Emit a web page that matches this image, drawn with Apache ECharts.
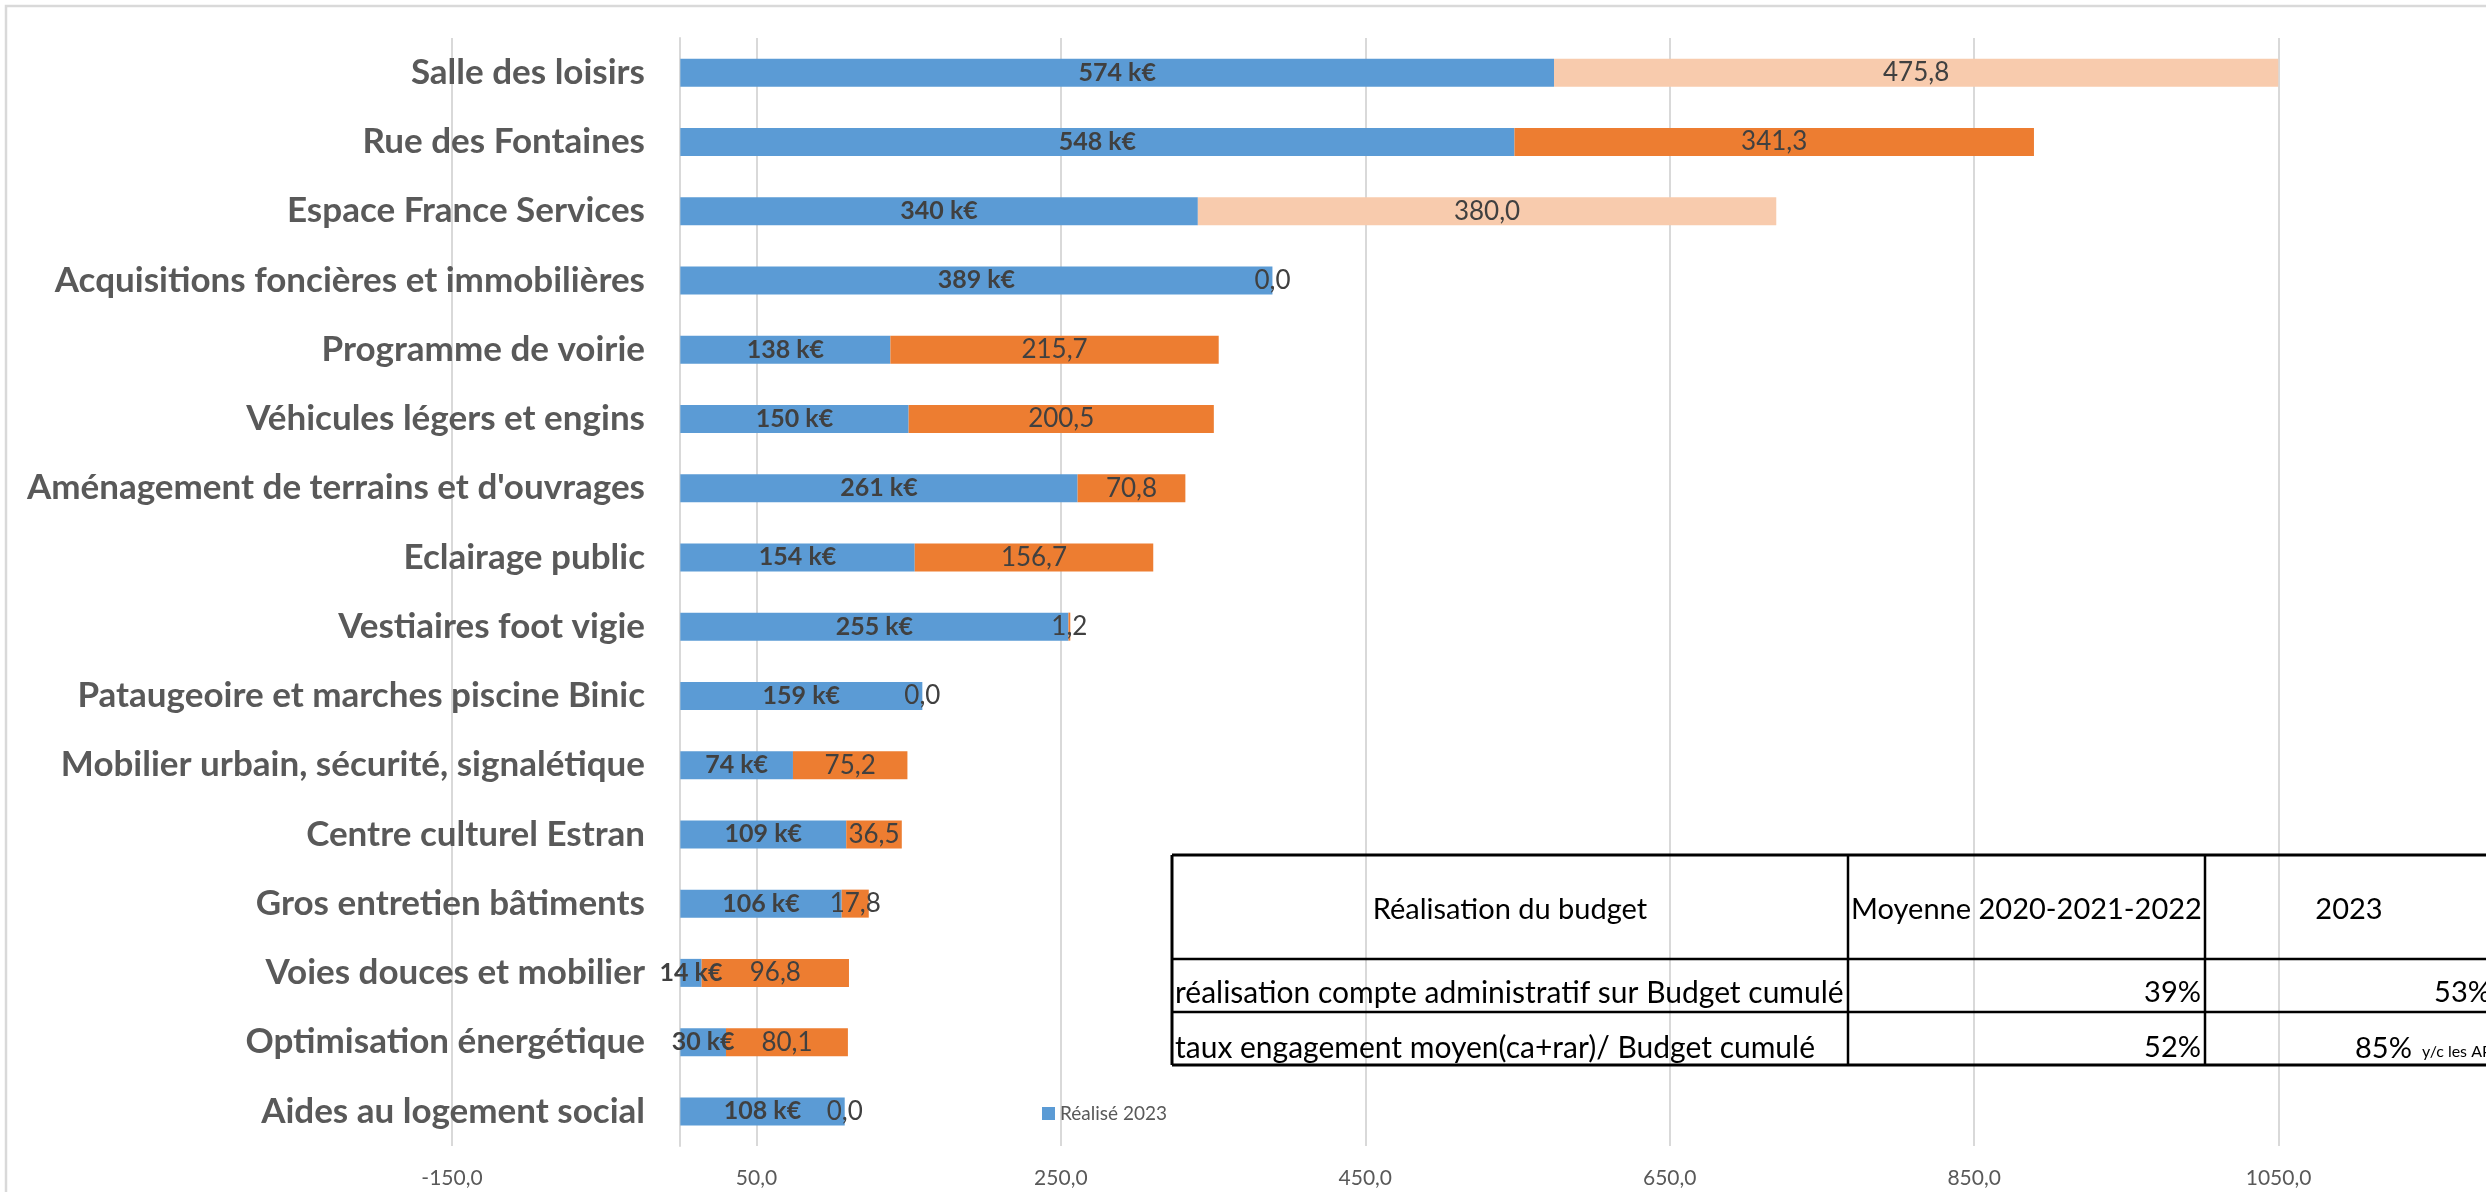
<!DOCTYPE html>
<html>
<head>
<meta charset="utf-8">
<script src="https://cdn.jsdelivr.net/npm/echarts@6/dist/echarts.min.js"></script>
<style>
  html, body { margin: 0; padding: 0; background: #ffffff; }
  #chart { width: 2486px; height: 1192px; }
</style>
</head>
<body>
<div id="chart"></div>
<script>
// Investment programme, top to bottom
const categories = [
  'Salle des loisirs',
  'Rue des Fontaines',
  'Espace France Services',
  'Acquisitions foncières et immobilières',
  'Programme de voirie',
  'Véhicules légers et engins',
  "Aménagement de terrains et d'ouvrages",
  'Eclairage public',
  'Vestiaires foot vigie',
  'Pataugeoire et marches piscine Binic',
  'Mobilier urbain, sécurité, signalétique',
  'Centre culturel Estran',
  'Gros entretien bâtiments',
  'Voies douces et mobilier',
  'Optimisation énergétique',
  'Aides au logement social'
];

// Spent in 2023 (k€)
const realise2023 = [574, 548, 340, 389, 138, 150, 261, 154, 255, 159, 74, 109, 106, 14, 30, 108];

// Committed, still to be carried out (k€)
const restesARealiser = ['-', 341.3, '-', 0.0, 215.7, 200.5, 70.8, 156.7, 1.2, 0.0, 75.2, 36.5, 17.8, 96.8, 80.1, 0.0];

// Budgeted, not yet committed (k€)
const budgetNonEngage = [475.8, '-', 380.0, '-', '-', '-', '-', '-', '-', '-', '-', '-', '-', '-', '-', '-'];

// Value axis
const axisMin = -150;
const axisMax = 1250;
const axisStep = 200;

// Budget execution table
const tableHeader = ['Réalisation du budget', 'Moyenne 2020-2021-2022', '2023'];
const tableRows = [
  'réalisation compte administratif sur Budget cumulé',
  'taux engagement moyen(ca+rar)/ Budget cumulé'
];
const tableMoyenne = ['39%', '52%'];
const table2023 = ['53%', '85%'];
const table2023Note = 'y/c les AP';

const FONT = 'Lato, "Noto Sans", sans-serif';
const fmtComma = v => Number(v).toFixed(1).replace('.', ',');

const chart = echarts.init(document.getElementById('chart'), null, { renderer: 'canvas' });

// Table geometry
const colX = [1172, 1848, 2205, 2495];
const rowY = [855, 959, 1012, 1065];

const tableGraphics = [];
// horizontal rules
rowY.forEach((y, i) => {
  tableGraphics.push({
    type: 'line', z: 50,
    shape: { x1: colX[0], y1: y, x2: colX[3], y2: y },
    style: { stroke: '#000000', lineWidth: (i === 0 || i === rowY.length - 1) ? 3 : 2.5 }
  });
});
// vertical rules
colX.forEach((x, i) => {
  tableGraphics.push({
    type: 'line', z: 50,
    shape: { x1: x, y1: rowY[0], x2: x, y2: rowY[3] },
    style: { stroke: '#000000', lineWidth: i === 0 ? 3 : 2.5 }
  });
});
const cellText = { fill: '#000000', fontFamily: FONT, fontSize: 29 };
const rowText = { fill: '#000000', fontFamily: FONT, fontSize: 30 };
// header cells
tableGraphics.push({ type: 'text', z: 51, x: (colX[0] + colX[1]) / 2, y: 910,
  style: Object.assign({ text: tableHeader[0], textAlign: 'center', textVerticalAlign: 'middle' }, cellText) });
tableGraphics.push({ type: 'text', z: 51, x: (colX[1] + colX[2]) / 2, y: 910,
  style: Object.assign({ text: tableHeader[1], textAlign: 'center', textVerticalAlign: 'middle' }, cellText) });
tableGraphics.push({ type: 'text', z: 51, x: 2349, y: 910,
  style: Object.assign({ text: tableHeader[2], textAlign: 'center', textVerticalAlign: 'middle' }, cellText) });
// body rows
const rowMid = [993, 1048];
tableRows.forEach((label, i) => {
  tableGraphics.push({ type: 'text', z: 51, x: colX[0] + 3, y: rowMid[i],
    style: Object.assign({ text: label, textAlign: 'left', textVerticalAlign: 'middle' }, rowText) });
  tableGraphics.push({ type: 'text', z: 51, x: colX[2] - 4, y: rowMid[i],
    style: Object.assign({ text: tableMoyenne[i], textAlign: 'right', textVerticalAlign: 'middle' }, cellText) });
});
tableGraphics.push({ type: 'text', z: 51, x: colX[3] - 4, y: rowMid[0],
  style: Object.assign({ text: table2023[0], textAlign: 'right', textVerticalAlign: 'middle' }, cellText) });
tableGraphics.push({ type: 'text', z: 51, x: 2355, y: 1063,
  style: Object.assign({ text: table2023[1], textAlign: 'left', textVerticalAlign: 'bottom' }, cellText) });
tableGraphics.push({ type: 'text', z: 51, x: 2422, y: 1060,
  style: { text: table2023Note, textAlign: 'left', textVerticalAlign: 'bottom', fill: '#000000', fontFamily: FONT, fontSize: 16 } });

const option = {
  backgroundColor: '#ffffff',
  animation: false,
  grid: { left: 452, top: 38, width: 2131, height: 1108, containLabel: false, outerBoundsMode: 'none' },
  legend: {
    data: ['Réalisé 2023'],
    left: 1037, top: 1099,
    icon: 'rect',
    itemWidth: 13, itemHeight: 13,
    textStyle: { fontFamily: FONT, fontSize: 19, color: '#595959' }
  },
  xAxis: {
    type: 'value',
    min: axisMin, max: axisMax, interval: axisStep,
    axisLine: { show: false },
    axisTick: { show: false },
    splitLine: { show: true, lineStyle: { color: '#d9d9d9', width: 2 } },
    axisLabel: {
      margin: 22,
      fontFamily: FONT, fontSize: 21, color: '#595959',
      formatter: v => fmtComma(v)
    }
  },
  yAxis: {
    type: 'category',
    data: categories,
    inverse: true,
    // category axis sits on the value axis' zero
    offset: -228,
    axisLine: { show: true, onZero: false, lineStyle: { color: '#d9d9d9', width: 2 } },
    axisTick: { show: false },
    splitLine: { show: false },
    axisLabel: {
      margin: 35,
      fontFamily: FONT, fontSize: 35, fontWeight: 'bold', color: '#595959'
    }
  },
  series: [
    {
      name: 'Réalisé 2023',
      type: 'bar', stack: 'total', barWidth: 28,
      itemStyle: { color: '#5b9bd5' },
      label: {
        show: true, position: 'inside',
        fontFamily: FONT, fontSize: 25, fontWeight: 'bold', color: '#404040',
        formatter: p => p.value + ' k€'
      },
      data: realise2023
    },
    {
      name: 'Restes à réaliser',
      type: 'bar', stack: 'total', barWidth: 28,
      itemStyle: { color: '#ed7d31' },
      label: {
        show: true, position: 'inside',
        fontFamily: FONT, fontSize: 26, color: '#404040',
        formatter: p => fmtComma(p.value)
      },
      data: restesARealiser
    },
    {
      name: 'Budget non engagé',
      type: 'bar', stack: 'total', barWidth: 28,
      itemStyle: { color: '#f8cbad' },
      label: {
        show: true, position: 'inside',
        fontFamily: FONT, fontSize: 26, color: '#404040',
        formatter: p => fmtComma(p.value)
      },
      data: budgetNonEngage
    }
  ],
  graphic: [
    {
      type: 'rect', z: -10, silent: true,
      shape: { x: 6, y: 6, width: 2600, height: 1300 },
      style: { fill: 'none', stroke: '#d9d9d9', lineWidth: 2.5 }
    }
  ].concat(tableGraphics)
};

chart.setOption(option);
</script>
</body>
</html>
